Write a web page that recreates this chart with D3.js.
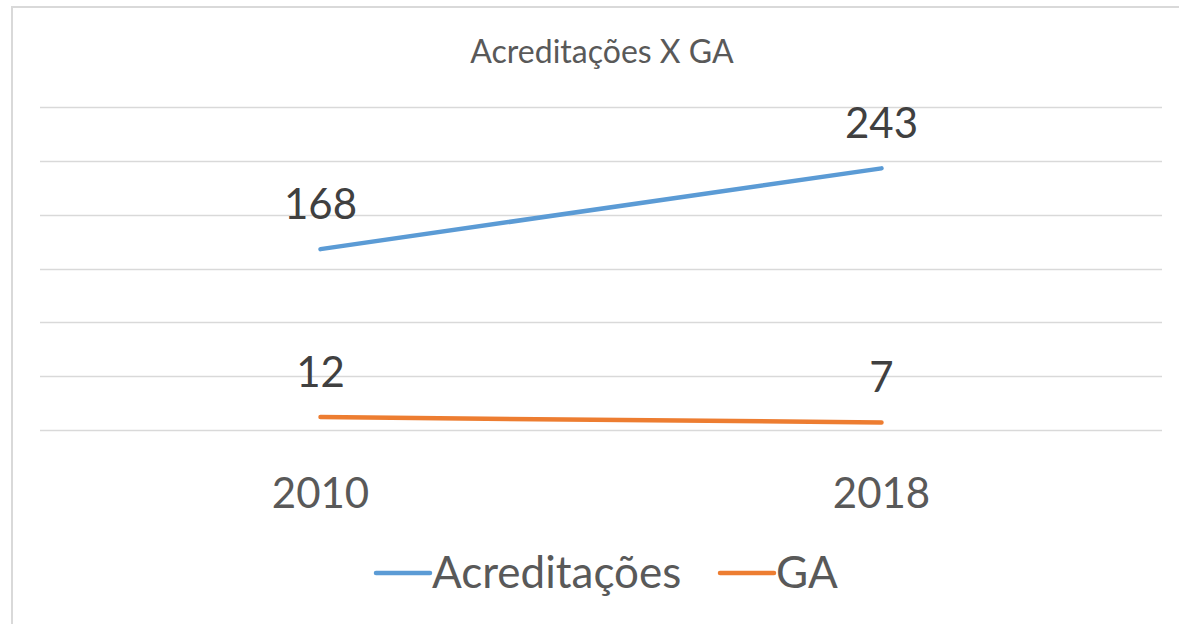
<!DOCTYPE html>
<html>
<head>
<meta charset="utf-8">
<script src="https://cdn.jsdelivr.net/npm/d3@7"></script>
<style>
  html, body { margin: 0; padding: 0; background: #fff; }
  svg { display: block; font-family: Lato, "Open Sans", sans-serif; }
</style>
</head>
<body>
<div id="container"><svg></svg></div>
<script>
let width = 1179;
let height = 624;

// chart data
let categories = ['2010', '2018'];
let acreditacoes = [168, 243];
let ga = [12, 7];
let yTicks = [0, 50, 100, 150, 200, 250, 300];
let seriesNames = ['Acreditações', 'GA'];
let colors = ['#5B9BD5', '#ED7D31'];

function draw_chart() {
    let svg = d3.select('#container').select('svg')
        .attr('width', width)
        .attr('height', height);

    // chart area border (cropped on right and bottom)
    svg.append('rect')
        .attr('x', 12).attr('y', 7)
        .attr('width', 1300).attr('height', 700)
        .attr('fill', '#fff')
        .attr('stroke', '#d9d9d9')
        .attr('stroke-width', 2);

    let margin = {left: 40, right: 17, top: 107, bottom: 194};
    let x = d3.scaleBand()
        .domain(categories)
        .range([margin.left, width - margin.right]);
    let y = d3.scaleLinear()
        .domain([0, 300])
        .range([height - margin.bottom, margin.top]);

    // title
    svg.append('text')
        .attr('x', 602).attr('y', 63)
        .attr('text-anchor', 'middle')
        .attr('font-size', 32)
        .attr('fill', '#595959')
        .text('Acreditações X GA');

    // gridlines
    svg.append('g')
        .selectAll('line')
        .data(yTicks)
        .join('line')
        .attr('x1', margin.left)
        .attr('x2', width - margin.right)
        .attr('y1', d => Math.round(y(d)) + 0.5)
        .attr('y2', d => Math.round(y(d)) + 0.5)
        .attr('stroke', '#d9d9d9')
        .attr('stroke-width', 1.3);

    // x axis labels
    svg.append('g')
        .selectAll('text')
        .data(categories)
        .join('text')
        .attr('x', d => x(d) + x.bandwidth() / 2)
        .attr('y', 508)
        .attr('text-anchor', 'middle')
        .attr('font-size', 42)
        .attr('fill', '#595959')
        .text(d => d);

    let series = [acreditacoes, ga];
    let line = d3.line()
        .x((d, i) => x(categories[i]) + x.bandwidth() / 2)
        .y(d => y(d));

    series.forEach((vals, k) => {
        svg.append('path')
            .datum(vals)
            .attr('d', line)
            .attr('fill', 'none')
            .attr('stroke', colors[k])
            .attr('stroke-width', 4.5)
            .attr('stroke-linecap', 'round');

        svg.append('g')
            .selectAll('text')
            .data(vals)
            .join('text')
            .attr('x', (d, i) => x(categories[i]) + x.bandwidth() / 2)
            .attr('y', d => y(d) - 30)
            .attr('text-anchor', 'middle')
            .attr('font-size', 42)
            .attr('fill', '#404040')
            .text(d => d);
    });

    // legend
    let legendX = [376, 720];
    let legend = svg.append('g')
        .selectAll('g')
        .data(seriesNames)
        .join('g')
        .attr('transform', (d, i) => `translate(${legendX[i]},573)`);
    legend.append('line')
        .attr('x1', 0).attr('x2', 54)
        .attr('y1', 0).attr('y2', 0)
        .attr('stroke', (d, i) => colors[i])
        .attr('stroke-width', 4.5)
        .attr('stroke-linecap', 'round');
    legend.append('text')
        .attr('x', 56).attr('y', 15)
        .attr('font-size', 44)
        .attr('fill', '#595959')
        .text(d => d);
}

draw_chart();
</script>
</body>
</html>
